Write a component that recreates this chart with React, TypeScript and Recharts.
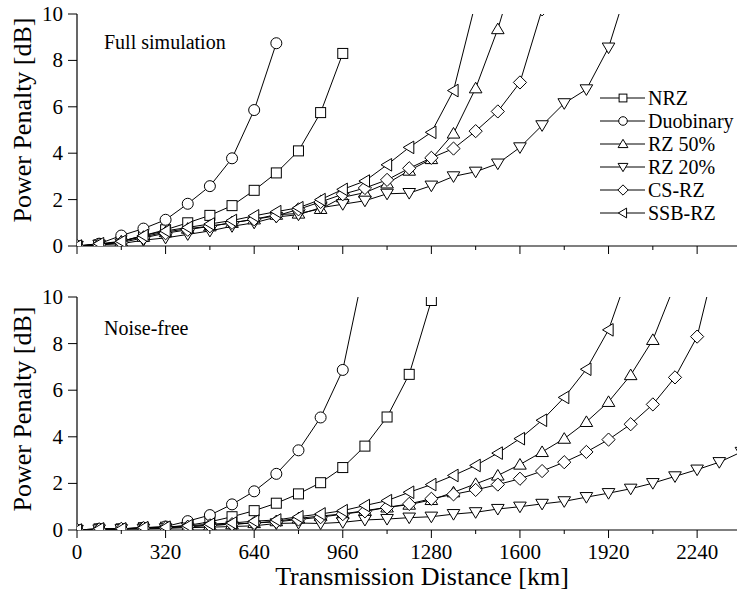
import React from 'react';
import { LineChart, Line, XAxis, YAxis, Legend, Customized } from 'recharts';

const FONT = 'Liberation Serif, Times New Roman, Times, serif';

const distanceKm = [0, 80, 160, 240, 320, 400, 480, 560, 640, 720, 800, 880, 960, 1040, 1120, 1200, 1280, 1360, 1440, 1520, 1600, 1680, 1760, 1840, 1920, 2000, 2080, 2160, 2240, 2320, 2400];
const xTicks = [0, 160, 320, 480, 640, 800, 960, 1120, 1280, 1440, 1600, 1760, 1920, 2080, 2240];
const yTicks = [0, 2, 4, 6, 8, 10];
const X_MAX = 2384;

const seriesKeys = ['nrz', 'duo', 'rz50', 'rz20', 'csrz', 'ssb'];
const seriesNames = ['NRZ', 'Duobinary', 'RZ 50%', 'RZ 20%', 'CS-RZ', 'SSB-RZ'];
const seriesShapes = ['square', 'circle', 'up', 'down', 'diamond', 'left'];

// Full simulation panel
const fullNrz = [0, 0.05, 0.2, 0.45, 0.7, 1.0, 1.32, 1.74, 2.4, 3.15, 4.1, 5.75, 8.3];
const fullDuo = [0, 0.1, 0.45, 0.75, 1.13, 1.82, 2.58, 3.78, 5.86, 8.74];
const fullRz50 = [0, 0.05, 0.2, 0.4, 0.6, 0.75, 0.85, 1.0, 1.15, 1.35, 1.4, 1.6, 2.1, 2.3, 2.7, 3.25, 3.75, 4.85, 6.8, 9.35, 12.5];
const fullRz20 = [0, 0.05, 0.1, 0.25, 0.35, 0.5, 0.65, 0.85, 1.0, 1.25, 1.35, 1.65, 1.8, 1.95, 2.25, 2.28, 2.6, 3.0, 3.2, 3.55, 4.25, 5.2, 6.15, 6.75, 8.55, 11.6];
const fullCsrz = [0, 0.05, 0.15, 0.35, 0.55, 0.7, 0.85, 1.0, 1.15, 1.3, 1.58, 1.9, 2.23, 2.5, 2.85, 3.35, 3.8, 4.2, 4.95, 5.8, 7.05, 10.2];
const fullSsb = [0, 0.1, 0.2, 0.45, 0.65, 0.8, 0.95, 1.1, 1.3, 1.48, 1.65, 2.0, 2.44, 2.8, 3.5, 4.25, 4.9, 6.7, 10.5];

// Noise-free panel
const freeNrz = [0, 0.05, 0.05, 0.1, 0.12, 0.2, 0.35, 0.57, 0.83, 1.15, 1.55, 2.03, 2.68, 3.6, 4.85, 6.68, 9.85];
const freeDuo = [0, 0.05, 0.05, 0.1, 0.15, 0.38, 0.64, 1.1, 1.66, 2.41, 3.42, 4.83, 6.87, 11.4];
const freeRz50 = [0, 0.03, 0.05, 0.08, 0.1, 0.15, 0.2, 0.25, 0.3, 0.38, 0.5, 0.6, 0.69, 0.83, 0.97, 1.09, 1.29, 1.62, 1.98, 2.34, 2.81, 3.35, 3.92, 4.64, 5.5, 6.65, 8.16, 10.55];
const freeRz20 = [0, 0.02, 0.03, 0.05, 0.07, 0.1, 0.12, 0.15, 0.18, 0.28, 0.3, 0.28, 0.33, 0.43, 0.47, 0.53, 0.57, 0.68, 0.76, 0.9, 1.0, 1.12, 1.23, 1.41, 1.58, 1.77, 2.01, 2.3, 2.59, 2.91, 3.35];
const freeCsrz = [0, 0.03, 0.05, 0.08, 0.1, 0.14, 0.2, 0.25, 0.3, 0.35, 0.45, 0.55, 0.68, 0.8, 0.97, 1.12, 1.34, 1.53, 1.72, 1.95, 2.2, 2.53, 2.91, 3.35, 3.88, 4.54, 5.39, 6.55, 8.3, 12.2];
const freeSsb = [0, 0.05, 0.05, 0.1, 0.12, 0.18, 0.25, 0.3, 0.38, 0.43, 0.57, 0.69, 0.83, 1.05, 1.26, 1.62, 1.95, 2.34, 2.77, 3.3, 3.92, 4.71, 5.69, 6.9, 8.59, 11.3];

function buildRows(lists: number[][]) {
  return distanceKm.map((x, i) => {
    const row: any = { x };
    seriesKeys.forEach((k, j) => {
      const v = lists[j][i];
      row[k] = v === undefined ? null : v;
    });
    return row;
  });
}

const fullRows = buildRows([fullNrz, fullDuo, fullRz50, fullRz20, fullCsrz, fullSsb]);
const freeRows = buildRows([freeNrz, freeDuo, freeRz50, freeRz20, freeCsrz, freeSsb]);

const textStyle = { fontFamily: FONT };

function Marker({ shape, cx, cy, s = 1 }: { shape: string; cx: number; cy: number; s?: number }) {
  const common = { fill: '#fff', stroke: '#000', strokeWidth: 1 };
  if (shape === 'square') {
    const h = 5 * s;
    return <rect x={cx - h} y={cy - h} width={2 * h} height={2 * h} {...common} />;
  }
  if (shape === 'circle') {
    return <circle cx={cx} cy={cy} r={5.5 * s} {...common} />;
  }
  if (shape === 'up') {
    const w = 6.3 * s, t = 6 * s, b = 4.6 * s;
    return <polygon points={`${cx},${cy - t} ${cx - w},${cy + b} ${cx + w},${cy + b}`} {...common} />;
  }
  if (shape === 'down') {
    const w = 6.3 * s, t = 6 * s, b = 4.6 * s;
    return <polygon points={`${cx},${cy + t} ${cx - w},${cy - b} ${cx + w},${cy - b}`} {...common} />;
  }
  if (shape === 'diamond') {
    const d = 6.6 * s;
    return <polygon points={`${cx},${cy - d} ${cx + d},${cy} ${cx},${cy + d} ${cx - d},${cy}`} {...common} />;
  }
  const w = 6 * s, r = 4.6 * s, h = 6.3 * s;
  return <polygon points={`${cx - w},${cy} ${cx + r},${cy - h} ${cx + r},${cy + h}`} {...common} />;
}

function makeDot(shape: string, key: string) {
  return (p: any) => {
    if (p.cx == null || p.cy == null || p.value == null) return <g key={`${key}-${p.index}`} />;
    return <Marker key={`${key}-${p.index}`} shape={shape} cx={p.cx} cy={p.cy} />;
  };
}

const bottomTick = (showLabel: boolean) => (p: any) => {
  const v = p.payload.value;
  const major = v % 320 === 0;
  return (
    <g>
      <line x1={p.x} y1={p.y} x2={p.x} y2={p.y + (major ? 8 : 4)} stroke="#000" strokeWidth={1} />
      {showLabel && major ? (
        <text x={p.x} y={p.y + 29} textAnchor="middle" fontSize={21} style={textStyle} fill="#000">
          {v}
        </text>
      ) : null}
    </g>
  );
};

const leftTick = (p: any) => (
  <text x={p.x} y={p.y + 7} textAnchor="end" fontSize={21} style={textStyle} fill="#000">
    {p.payload.value}
  </text>
);

const topTick = (p: any) => {
  const major = p.payload.value % 320 === 0;
  return <line x1={p.x} y1={p.y} x2={p.x} y2={p.y + (major ? 8 : 4)} stroke="#000" strokeWidth={1} />;
};

const rightTick = (p: any) => <line x1={p.x} y1={p.y} x2={p.x - 6} y2={p.y} stroke="#000" strokeWidth={1} />;

function LegendBox() {
  return (
    <svg width={141} height={142} style={{ display: 'block' }}>
      {seriesNames.map((n, i) => {
        const cy = 14 + i * 23;
        return (
          <g key={n}>
            <line x1={4} y1={cy} x2={49} y2={cy} stroke="#000" strokeWidth={1} />
            <Marker shape={seriesShapes[i]} cx={27} cy={cy} s={0.78} />
            <text x={52} y={cy + 7} fontSize={20} style={textStyle} fill="#000">
              {n}
            </text>
          </g>
        );
      })}
    </svg>
  );
}

function Panel({ rows, title, titleY, yTitleY, showXLabels, height, marginTop, xAxisHeight, withLegend }: any) {
  return (
    <LineChart width={737} height={height} data={rows} margin={{ top: marginTop, right: 0, bottom: 0, left: 0 }} style={textStyle}>
      <XAxis
        xAxisId="main"
        dataKey="x"
        type="number"
        domain={[0, X_MAX]}
        allowDataOverflow
        ticks={xTicks}
        interval={0}
        height={xAxisHeight}
        tickSize={0}
        tickMargin={0}
        tickLine={false}
        tick={bottomTick(showXLabels)}
        axisLine={{ stroke: '#000', strokeWidth: 1.2 }}
      />
      <XAxis
        xAxisId="top"
        dataKey="x"
        type="number"
        orientation="top"
        domain={[0, X_MAX]}
        allowDataOverflow
        ticks={xTicks}
        interval={0}
        height={0}
        tickSize={0}
        tickMargin={0}
        tickLine={false}
        tick={topTick}
        axisLine={{ stroke: '#000', strokeWidth: 1.2 }}
      />
      <YAxis
        yAxisId="left"
        type="number"
        domain={[0, 10]}
        allowDataOverflow
        ticks={yTicks}
        interval={0}
        width={77}
        tickSize={9}
        tickMargin={5}
        tickLine={{ stroke: '#000' }}
        axisLine={{ stroke: '#000', strokeWidth: 1.2 }}
        tick={leftTick}
      />
      <YAxis
        yAxisId="right"
        orientation="right"
        type="number"
        domain={[0, 10]}
        allowDataOverflow
        ticks={yTicks}
        interval={0}
        width={0}
        tickSize={0}
        tickMargin={0}
        tickLine={false}
        axisLine={false}
        tick={rightTick}
      />
      {seriesKeys.map((k, i) => (
        <Line
          key={k}
          xAxisId="main"
          yAxisId="left"
          dataKey={k}
          name={seriesNames[i]}
          stroke="#000"
          strokeWidth={1}
          dot={makeDot(seriesShapes[i], k)}
          activeDot={false}
          isAnimationActive={false}
          connectNulls={false}
          legendType="none"
        />
      ))}
      <Customized
        component={() => (
          <g>
            <text x={104} y={titleY} fontSize={20} style={textStyle} fill="#000">
              {title}
            </text>
            <text
              x={31}
              y={yTitleY}
              transform={`rotate(-90, 31, ${yTitleY})`}
              textAnchor="middle"
              fontSize={26}
              style={textStyle}
              fill="#000"
            >
              Power Penalty [dB]
            </text>
            {showXLabels ? (
              <text x={422} y={height - 7} textAnchor="middle" fontSize={26} style={textStyle} fill="#000">
                Transmission Distance [km]
              </text>
            ) : null}
          </g>
        )}
      />
      {withLegend ? (
        <Legend
          layout="horizontal"
          verticalAlign="middle"
          align="center"
          wrapperStyle={{ position: 'absolute', left: 596, top: 84, width: 141, height: 142 }}
          content={() => <LegendBox />}
        />
      ) : null}
    </LineChart>
  );
}

export default function App() {
  return (
    <div style={{ position: 'absolute', left: 0, top: 0, width: 737, height: 592, background: '#fff', overflow: 'hidden', fontFamily: FONT }}>
      <div style={{ position: 'absolute', left: 0, top: 0 }}>
        <Panel rows={fullRows} title="Full simulation" titleY={49} yTitleY={120} showXLabels={false} height={262} marginTop={14} xAxisHeight={16} withLegend />
      </div>
      <div style={{ position: 'absolute', left: 0, top: 280 }}>
        <Panel rows={freeRows} title="Noise-free" titleY={55} yTitleY={129} showXLabels={true} height={312} marginTop={17} xAxisHeight={62} withLegend={false} />
      </div>
    </div>
  );
}
